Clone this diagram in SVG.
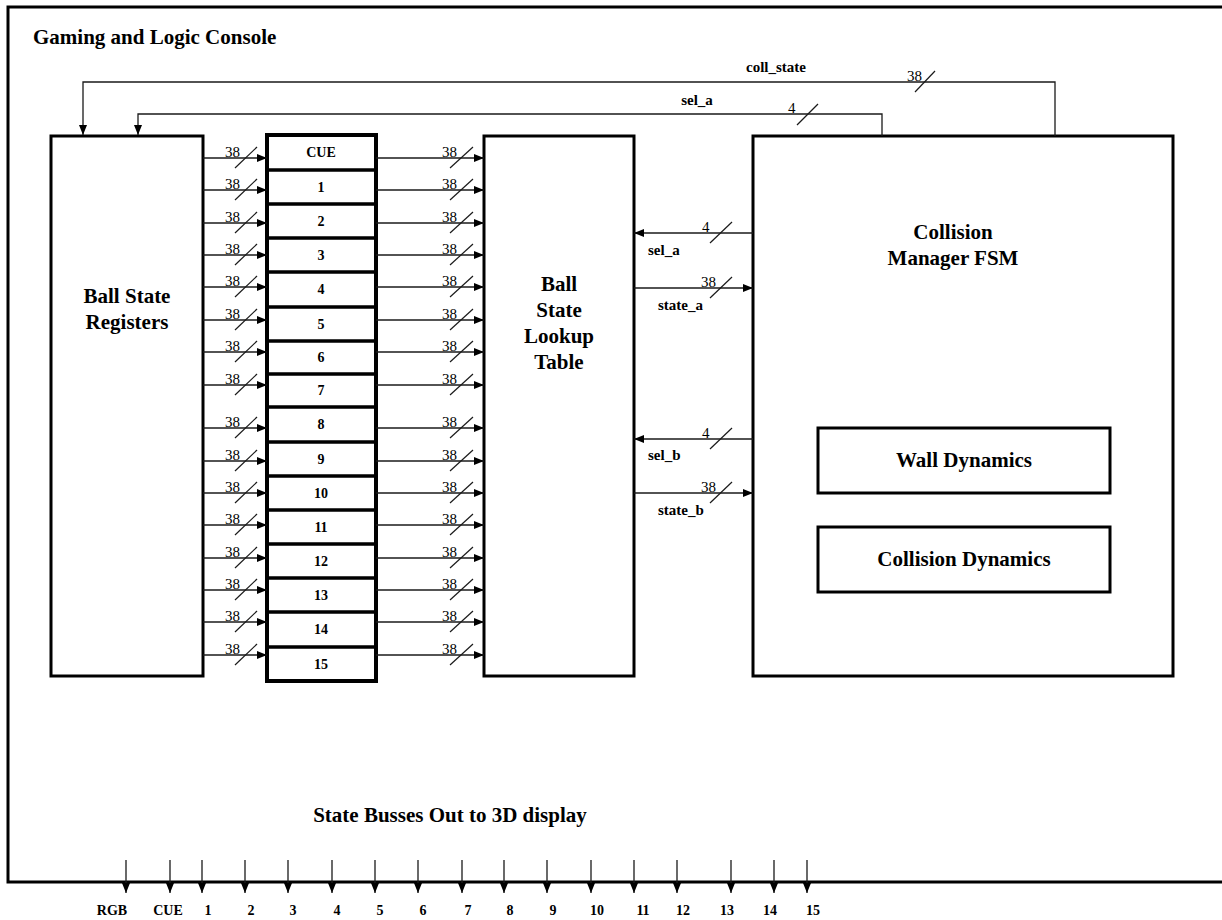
<svg xmlns="http://www.w3.org/2000/svg" width="1222" height="920" viewBox="0 0 1222 920">
<style>
.box{fill:#fff;stroke:#000;stroke-width:3}
.thin{fill:none;stroke:#1a1a1a;stroke-width:1.3}
.sl{fill:none;stroke:#1a1a1a;stroke-width:1.2}
.b{font-family:"Liberation Serif","Times New Roman",serif;font-weight:bold;fill:#000}
.n{font-family:"Liberation Serif","Times New Roman",serif;fill:#000}
.big{font-size:21px}
.cell{font-size:14px;text-anchor:middle}
.lab{font-size:15px}
.w{font-size:15px}
.mid{text-anchor:middle}
</style>
<defs>
<marker id="ah" markerWidth="10" markerHeight="8" refX="10" refY="4" orient="auto" markerUnits="userSpaceOnUse"><path d="M0,0 L10,4 L0,8 z" fill="#000"/></marker>
</defs>
<rect width="1222" height="920" fill="#fff"/>

<g id="console">
<path d="M1222,7 H8 V882 H1222" fill="none" stroke="#000" stroke-width="3"/>
<text class="b big" x="33" y="44">Gaming and Logic Console</text>
<text class="b big mid" x="450" y="822">State Busses Out to 3D display</text>
</g>

<g id="ball-state-registers">
<rect class="box" x="51" y="136" width="152" height="540"/>
<text class="b big mid" x="127" y="303">Ball State</text>
<text class="b big mid" x="127" y="329">Registers</text>
</g>

<g id="register-stack">
<rect x="267" y="135" width="109" height="546" fill="#fff" stroke="#000" stroke-width="4"/>
<path d="M267,170H376M267,204H376M267,238H376M267,272H376M267,307H376M267,341H376M267,374H376M267,407H376M267,442H376M267,476H376M267,510H376M267,544H376M267,578H376M267,612H376M267,647H376" stroke="#000" stroke-width="3.5"/>
<g class="b cell">
<text x="321" y="157">CUE</text>
<text x="321" y="192">1</text>
<text x="321" y="226">2</text>
<text x="321" y="260">3</text>
<text x="321" y="294">4</text>
<text x="321" y="329">5</text>
<text x="321" y="362">6</text>
<text x="321" y="395">7</text>
<text x="321" y="429">8</text>
<text x="321" y="464">9</text>
<text x="321" y="498">10</text>
<text x="321" y="532">11</text>
<text x="321" y="566">12</text>
<text x="321" y="600">13</text>
<text x="321" y="634">14</text>
<text x="321" y="669">15</text>
</g>
</g>

<g id="lookup-table">
<rect class="box" x="484" y="136" width="150" height="540"/>
<text class="b big mid" x="559" y="291">Ball</text>
<text class="b big mid" x="559" y="317">State</text>
<text class="b big mid" x="559" y="343">Lookup</text>
<text class="b big mid" x="559" y="369">Table</text>
</g>

<g id="collision-manager">
<rect class="box" x="753" y="136" width="420" height="540"/>
<text class="b big mid" x="953" y="239">Collision</text>
<text class="b big mid" x="953" y="265">Manager FSM</text>
</g>

<g id="wall-dynamics">
<rect class="box" x="818" y="428" width="292" height="65"/>
<text class="b big mid" x="964" y="467">Wall Dynamics</text>
</g>

<g id="collision-dynamics">
<rect class="box" x="818" y="527" width="292" height="65"/>
<text class="b big mid" x="964" y="566">Collision Dynamics</text>
</g>

<g id="connectors">
<g class="thin" marker-end="url(#ah)">
<path d="M203,158H267"/><path d="M203,190H267"/><path d="M203,223H267"/><path d="M203,255H267"/>
<path d="M203,287H267"/><path d="M203,320H267"/><path d="M203,352H267"/><path d="M203,385H267"/>
<path d="M203,428H267"/><path d="M203,461H267"/><path d="M203,493H267"/><path d="M203,525H267"/>
<path d="M203,558H267"/><path d="M203,590H267"/><path d="M203,622H267"/><path d="M203,655H267"/>
</g>
<g class="sl">
<path d="M235,168L257,147"/><path d="M235,200L257,179"/><path d="M235,233L257,212"/><path d="M235,265L257,244"/>
<path d="M235,297L257,276"/><path d="M235,330L257,309"/><path d="M235,362L257,341"/><path d="M235,395L257,374"/>
<path d="M235,438L257,417"/><path d="M235,471L257,450"/><path d="M235,503L257,482"/><path d="M235,535L257,514"/>
<path d="M235,568L257,547"/><path d="M235,600L257,579"/><path d="M235,632L257,611"/><path d="M235,665L257,644"/>
</g>
<g class="n w">
<text x="225" y="157">38</text><text x="225" y="189">38</text><text x="225" y="222">38</text><text x="225" y="254">38</text>
<text x="225" y="286">38</text><text x="225" y="319">38</text><text x="225" y="351">38</text><text x="225" y="384">38</text>
<text x="225" y="427">38</text><text x="225" y="460">38</text><text x="225" y="492">38</text><text x="225" y="524">38</text>
<text x="225" y="557">38</text><text x="225" y="589">38</text><text x="225" y="621">38</text><text x="225" y="654">38</text>
</g>
<g class="thin" marker-end="url(#ah)">
<path d="M376,158H484"/><path d="M376,190H484"/><path d="M376,223H484"/><path d="M376,255H484"/>
<path d="M376,287H484"/><path d="M376,320H484"/><path d="M376,352H484"/><path d="M376,385H484"/>
<path d="M376,428H484"/><path d="M376,461H484"/><path d="M376,493H484"/><path d="M376,525H484"/>
<path d="M376,558H484"/><path d="M376,590H484"/><path d="M376,622H484"/><path d="M376,655H484"/>
</g>
<g class="sl">
<path d="M450,168L473,147"/><path d="M450,200L473,179"/><path d="M450,233L473,212"/><path d="M450,265L473,244"/>
<path d="M450,297L473,276"/><path d="M450,330L473,309"/><path d="M450,362L473,341"/><path d="M450,395L473,374"/>
<path d="M450,438L473,417"/><path d="M450,471L473,450"/><path d="M450,503L473,482"/><path d="M450,535L473,514"/>
<path d="M450,568L473,547"/><path d="M450,600L473,579"/><path d="M450,632L473,611"/><path d="M450,665L473,644"/>
</g>
<g class="n w">
<text x="442" y="157">38</text><text x="442" y="189">38</text><text x="442" y="222">38</text><text x="442" y="254">38</text>
<text x="442" y="286">38</text><text x="442" y="319">38</text><text x="442" y="351">38</text><text x="442" y="384">38</text>
<text x="442" y="427">38</text><text x="442" y="460">38</text><text x="442" y="492">38</text><text x="442" y="524">38</text>
<text x="442" y="557">38</text><text x="442" y="589">38</text><text x="442" y="621">38</text><text x="442" y="654">38</text>
</g>

<g class="thin" marker-end="url(#ah)">
<path d="M753,233H634"/>
<path d="M634,288H753"/>
<path d="M753,439H634"/>
<path d="M634,493H753"/>
</g>
<g class="sl">
<path d="M710,243L732,222"/><path d="M710,298L732,277"/><path d="M710,449L732,428"/><path d="M710,503L732,482"/>
</g>
<g class="n w">
<text x="702" y="232">4</text><text x="701" y="287">38</text><text x="702" y="438">4</text><text x="701" y="492">38</text>
</g>
<g class="b lab">
<text x="648" y="255">sel_a</text>
<text x="658" y="310">state_a</text>
<text x="648" y="460">sel_b</text>
<text x="658" y="515">state_b</text>
</g>

<path class="thin" d="M1055,136V82H83V135" marker-end="url(#ah)"/>
<path class="thin" d="M882,136V114H138V135" marker-end="url(#ah)"/>
<path class="sl" d="M915,92L935,71"/>
<path class="sl" d="M797,125L818,104"/>
<text class="n w" x="907" y="81">38</text>
<text class="n w" x="788" y="113">4</text>
<text class="b lab mid" x="776" y="72">coll_state</text>
<text class="b lab mid" x="697" y="105">sel_a</text>

<g class="thin" marker-end="url(#ah)">
<path d="M126,860V893"/><path d="M170,860V893"/><path d="M202,860V893"/><path d="M245,860V893"/>
<path d="M288,860V893"/><path d="M332,860V893"/><path d="M375,860V893"/><path d="M418,860V893"/>
<path d="M462,860V893"/><path d="M504,860V893"/><path d="M547,860V893"/><path d="M591,860V893"/>
<path d="M634,860V893"/><path d="M677,860V893"/><path d="M731,860V893"/><path d="M774,860V893"/>
<path d="M807,860V893"/>
</g>
<g class="b cell">
<text x="112" y="915">RGB</text><text x="168" y="915">CUE</text><text x="208" y="915">1</text><text x="251" y="915">2</text>
<text x="293" y="915">3</text><text x="337" y="915">4</text><text x="380" y="915">5</text><text x="423" y="915">6</text>
<text x="468" y="915">7</text><text x="510" y="915">8</text><text x="553" y="915">9</text><text x="597" y="915">10</text>
<text x="643" y="915">11</text><text x="683" y="915">12</text><text x="727" y="915">13</text><text x="770" y="915">14</text>
<text x="813" y="915">15</text>
</g>
</g>
</svg>
